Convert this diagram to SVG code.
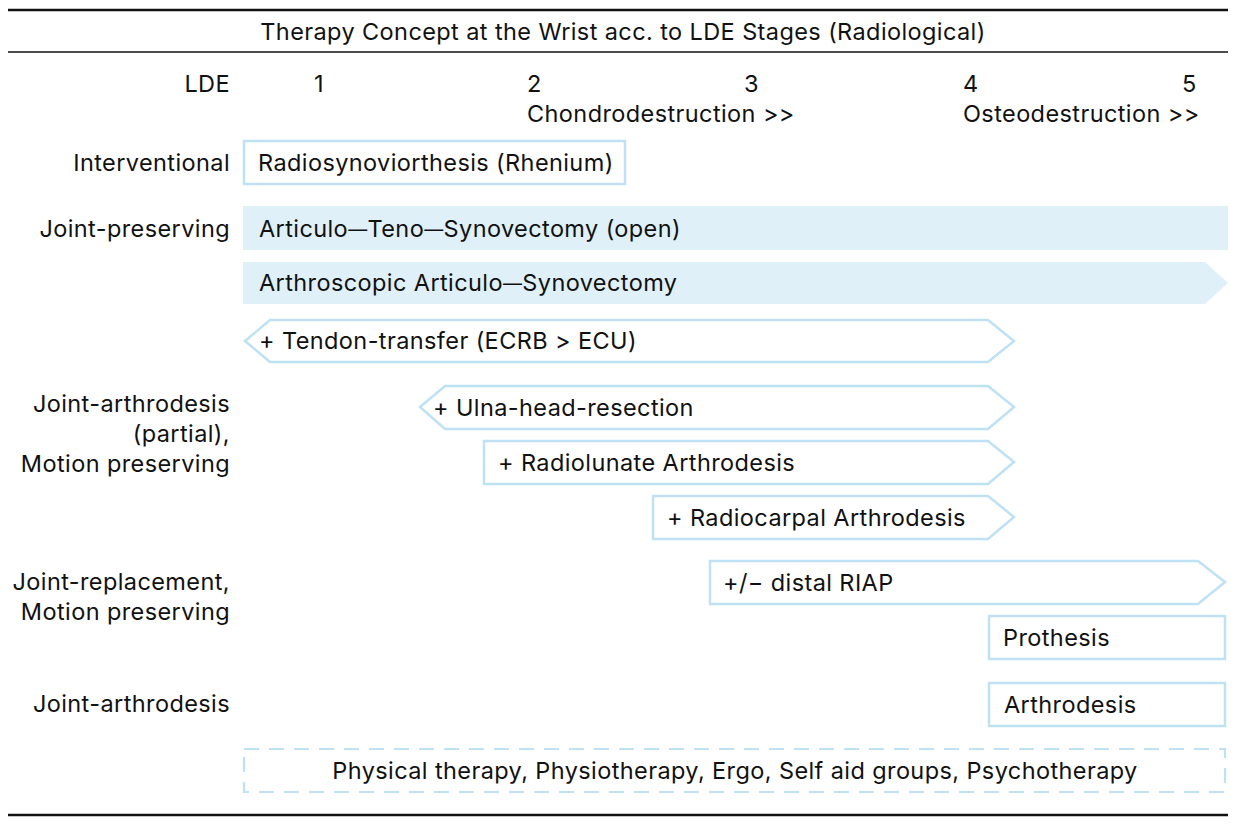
<svg xmlns="http://www.w3.org/2000/svg" width="1236" height="825" viewBox="0 0 1236 825">
<style>
text{font-family:Inter,"Liberation Sans","DejaVu Sans",sans-serif;font-size:23.5px;letter-spacing:0.4px;fill:#111}
.r{text-anchor:end}
.m{text-anchor:middle}
.dash{font-size:19px;baseline-shift:1.5px}
.o{fill:#fff;stroke:#bfe1f4;stroke-width:2.5}
.f{fill:#dff0f9;stroke:none}
.d{fill:#fff;stroke:#bfe1f4;stroke-width:2.2;stroke-dasharray:15 10}
.rule{stroke:#111;fill:none}
</style>
<rect width="1236" height="825" fill="#fff"/>
<g id="frame">
<line class="rule" x1="8" y1="10" x2="1228" y2="10" stroke-width="2.5"/>
<line class="rule" x1="8" y1="52" x2="1228" y2="52" stroke-width="1.5"/>
<line class="rule" x1="8" y1="815" x2="1228" y2="815" stroke-width="2.5"/>
<text class="m" x="623" y="40">Therapy Concept at the Wrist acc. to LDE Stages (Radiological)</text>
</g>
<g id="header">
<text class="r" x="230" y="92">LDE</text>
<text x="314" y="92">1</text>
<text x="527" y="92">2</text>
<text x="744" y="92">3</text>
<text x="963" y="92">4</text>
<text x="1182" y="92">5</text>
<text x="527" y="122">Chondrodestruction &gt;&gt;</text>
<text x="963" y="122">Osteodestruction &gt;&gt;</text>
</g>
<g id="row-labels">
<text class="r" x="230" y="171">Interventional</text>
<text class="r" x="230" y="237">Joint-preserving</text>
<text class="r" x="230" y="412">Joint-arthrodesis</text>
<text class="r" x="230" y="442">(partial),</text>
<text class="r" x="230" y="472">Motion preserving</text>
<text class="r" x="230" y="590">Joint-replacement,</text>
<text class="r" x="230" y="620">Motion preserving</text>
<text class="r" x="230" y="712">Joint-arthrodesis</text>
</g>
<g id="radiosynoviorthesis">
<rect class="o" x="244" y="141" width="381" height="43"/>
<text x="258" y="171">Radiosynoviorthesis (Rhenium)</text>
</g>
<g id="articulo-teno">
<rect class="f" x="243" y="206" width="985" height="44"/>
<text x="259" y="237">Articulo<tspan class="dash">—</tspan>Teno<tspan class="dash">—</tspan>Synovectomy (open)</text>
</g>
<g id="arthroscopic">
<polygon class="f" points="243,262 1205,262 1228,283 1205,304 243,304"/>
<text x="259" y="291">Arthroscopic Articulo<tspan class="dash">—</tspan>Synovectomy</text>
</g>
<g id="tendon-transfer">
<polygon class="o" points="245,341 270,320 988,320 1014,341 988,362 270,362"/>
<text x="259" y="349">+ Tendon-transfer (ECRB &gt; ECU)</text>
</g>
<g id="ulna-head">
<polygon class="o" points="420,407 445,386 988,386 1014,407 988,429 445,429"/>
<text x="433" y="416">+ Ulna-head-resection</text>
</g>
<g id="radiolunate">
<polygon class="o" points="484,441 988,441 1014,462 988,484 484,484"/>
<text x="498" y="471">+ Radiolunate Arthrodesis</text>
</g>
<g id="radiocarpal">
<polygon class="o" points="653,496 988,496 1014,517 988,539 653,539"/>
<text x="667" y="526">+ Radiocarpal Arthrodesis</text>
</g>
<g id="riap">
<polygon class="o" points="710,561 1198,561 1225,582 1198,604 710,604"/>
<text x="723" y="591">+/− distal RIAP</text>
</g>
<g id="prothesis">
<rect class="o" x="989" y="616" width="236" height="43"/>
<text x="1003" y="646">Prothesis</text>
</g>
<g id="arthrodesis">
<rect class="o" x="989" y="683" width="236" height="43"/>
<text x="1004" y="713">Arthrodesis</text>
</g>
<g id="physical-therapy">
<rect class="d" x="244" y="749" width="981" height="43"/>
<text class="m" x="735" y="779">Physical therapy, Physiotherapy, Ergo, Self aid groups, Psychotherapy</text>
</g>
<g id="connectors"></g>
</svg>
